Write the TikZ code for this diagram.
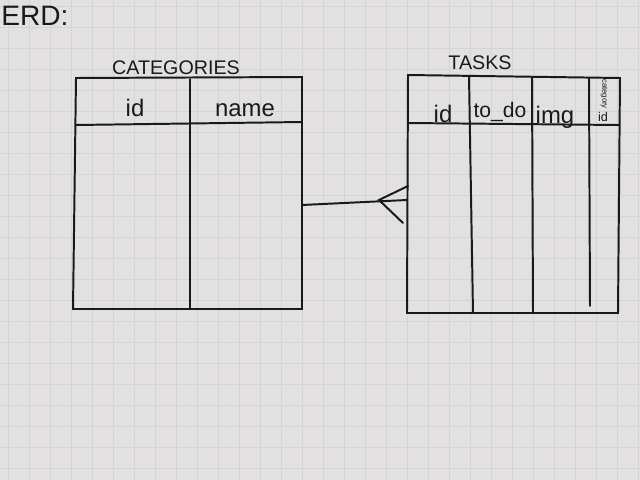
\documentclass[tikz,border=0pt]{standalone}
\usepackage{fontspec}
\setmainfont{Liberation Sans}
\definecolor{paper}{RGB}{226,224,225}
\definecolor{gridc}{RGB}{212,211,215}
\definecolor{ink}{RGB}{25,25,28}
\tikzset{
  pen/.style={draw=ink, line width=1.4pt, line cap=round},
  hand/.style={text=ink, font=\fontsize{14}{16}\selectfont, inner sep=0pt},
}
\begin{document}
\begin{tikzpicture}[x=0.025cm, y=-0.025cm]
\useasboundingbox (0,0) rectangle (640,480);
\fill[paper] (0,0) rectangle (640,480);
\foreach \i in {0,...,31} { \draw[gridc, line width=0.5pt] (\i*21+8,0) -- (\i*21+8,480); }
\foreach \j in {0,...,23} { \draw[gridc, line width=0.5pt] (0,\j*21+6) -- (640,\j*21+6); }

\node[hand, anchor=west, font=\fontsize{20}{22}\selectfont] (erd) at (1,16) {ERD:};

% CATEGORIES table
\node[hand] (ctitle) at (176,68) {CATEGORIES};
\draw[pen] (76,78) -- (302,77) -- (302,309) -- (73,309) -- cycle;
\draw[pen] (76,125) -- (302,122);
\draw[pen] (190,79) -- (190,309);
\node[hand, font=\fontsize{17}{19}\selectfont] (cid) at (135,108) {id};
\node[hand, font=\fontsize{17}{19}\selectfont] (cname) at (245,110) {name};
\coordinate (cat) at (302,205);

% TASKS table
\node[hand] (ttitle) at (480,63) {TASKS};
\draw[pen] (408,75) -- (620,78) -- (618,313) -- (407,313) -- cycle;
\draw[pen] (408,123) -- (619,125);
\draw[pen] (469,76) -- (473,313);
\draw[pen] (532,77) -- (533,313);
\draw[pen] (589,78) -- (590,306);
\node[hand, font=\fontsize{17}{19}\selectfont] (tid) at (443,114) {id};
\node[hand, font=\fontsize{15}{17}\selectfont] (ttodo) at (500,112) {to\_do};
\node[hand, font=\fontsize{17}{19}\selectfont] (timg) at (555,117) {img};
\node[hand, font=\fontsize{5.5}{6}\selectfont, rotate=-90] (tcat) at (604,94) {category};
\node[hand, font=\fontsize{9}{10}\selectfont] (tcid) at (603,117) {id};
\coordinate (task) at (407,200);
\coordinate (foot) at (379,200);
\coordinate (footup) at (408,186);
\coordinate (footdn) at (403,223);

% relationship with crow's foot
\draw[pen] (cat) -- (task);
\draw[pen] (footup) -- (foot) -- (footdn);
\end{tikzpicture}
\end{document}
